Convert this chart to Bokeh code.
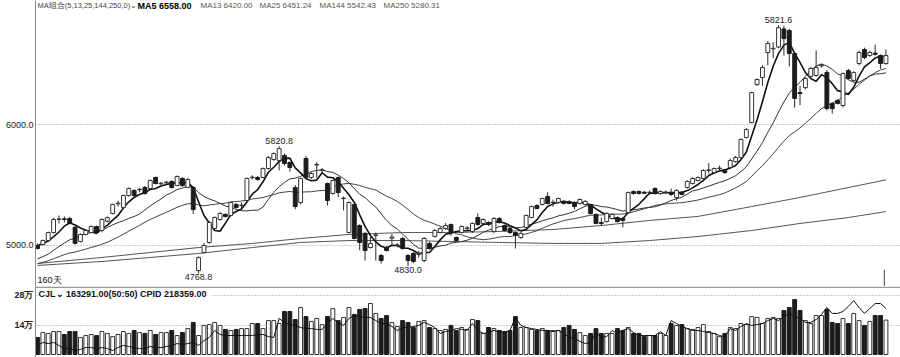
import numpy as np
import pandas as pd
from bokeh.plotting import figure
from bokeh.layouts import column
from bokeh.models import Range1d, FixedTicker, Label, Span, PrintfTickFormatter, ColumnDataSource
from bokeh.embed import file_html
from bokeh.resources import INLINE

# ---------------- data ----------------
warmup_close = [4760, 4780, 4800, 4790, 4810, 4830, 4820, 4800, 4810, 4820, 4830, 4830,
                4810, 4830, 4800, 4820, 4840, 4830, 4850, 4790, 4960, 5000, 5030, 5030]

open_ = [5000,5008,5041,5107,5215,5220,5223,5150,5033,5091,
 5107,5157,5124,5200,5265,5345,5314,5413,5455,5460,
 5480,5471,5562,5510,5518,5529,5496,5554,5480,5480,
 4793,4942,5025,5140,5215,5257,5248,5339,5330,5372,
 5560,5562,5562,5636,5711,5702,5744,5686,5479,5355,
 5719,5562,5665,5620,5512,5430,5562,5388,5107,5339,
 5165,5100,4983,5083,4917,4983,5060,5000,5058,4917,
 4934,4925,4876,5017,5075,5107,5140,5174,5066,5107,
 5140,5116,5231,5182,5190,5116,5223,5165,5140,5107,
 5066,5149,5231,5331,5339,5405,5355,5355,5364,5364,
 5355,5347,5339,5339,5257,5190,5198,5223,5231,5223,
 5273,5446,5446,5440,5438,5471,5430,5438,5440,5397,
 5440,5480,5512,5537,5554,5620,5603,5636,5620,5645,
 5694,5727,5892,6016,6330,6388,6595,6625,6640,6790,
 6777,6587,6264,6305,6397,6405,6485,6430,6174,6198,
 6157,6446,6364,6504,6620,6570,6590,6570,6504]

high = [5017,5050,5115,5230,5248,5240,5235,5160,5100,5132,
 5165,5165,5225,5240,5345,5370,5420,5480,5465,5475,
 5490,5545,5570,5525,5535,5540,5580,5565,5560,5490,
 4910,5020,5200,5240,5275,5265,5365,5350,5355,5562,
 5580,5575,5645,5740,5770,5820.8,5760,5695,5500,5560,
 5740,5605,5690,5640,5520,5545,5570,5405,5365,5345,
 5175,5110,5070,5107,4930,4995,5095,5020,5070,4930,
 4945,4955,5070,5030,5135,5155,5185,5180,5075,5165,
 5160,5190,5265,5225,5200,5235,5235,5175,5150,5115,
 5110,5255,5330,5340,5395,5440,5380,5395,5372,5372,
 5365,5390,5375,5345,5265,5230,5275,5265,5240,5235,
 5445,5455,5455,5450,5455,5480,5455,5455,5470,5465,
 5450,5540,5565,5570,5630,5680,5645,5660,5630,5720,
 5740,5885,5970,6272,6380,6490,6690,6680,6821.6,6815,
 6790,6600,6320,6390,6475,6612,6500,6450,6180,6210,
 6430,6460,6440,6610,6635,6610,6660,6580,6620]

low = [4967,5000,5033,5100,5182,5190,5175,5008,5025,5083,
 5100,5100,5110,5190,5257,5320,5300,5405,5400,5440,
 5420,5460,5505,5500,5510,5470,5490,5485,5475,5260,
 4768.8,4935,5015,5130,5205,5230,5240,5305,5310,5365,
 5545,5535,5555,5628,5700,5620,5660,5610,5300,5340,
 5550,5550,5560,5600,5330,5420,5400,5290,5100,5050,
 4960,4876,4975,4876,4851,4950,5000,4985,4965,4830,
 4855,4900,4860,4965,5065,5100,5130,5080,5030,5100,
 5125,5105,5165,5175,5160,5100,5180,5115,5095,4975,
 5055,5140,5225,5300,5330,5340,5320,5345,5340,5340,
 5300,5340,5330,5255,5175,5160,5190,5215,5190,5150,
 5265,5420,5420,5425,5420,5420,5420,5425,5410,5370,
 5415,5470,5505,5530,5545,5595,5595,5620,5590,5635,
 5685,5720,5885,6010,6320,6320,6488,6550,6630,6570,
 6480,6140,6160,6290,6390,6395,6470,6115,6090,6165,
 6140,6370,6355,6490,6540,6560,6570,6460,6495]

close = [4975,5041,5107,5215,5220,5215,5182,5017,5091,5124,
 5157,5107,5215,5231,5339,5350,5413,5471,5413,5465,
 5430,5537,5512,5515,5523,5479,5570,5496,5545,5297,
 4900,5000,5190,5231,5265,5240,5355,5314,5333,5554,
 5565,5545,5636,5727,5760,5801,5678,5645,5322,5554,
 5562,5595,5670,5625,5372,5537,5438,5392,5355,5058,
 5025,4959,5017,5088,4876,4959,5070,5005,4975,4876,
 4868,4935,5058,4975,5124,5140,5165,5107,5041,5157,
 5145,5182,5174,5215,5174,5223,5190,5124,5107,5083,
 5100,5248,5322,5306,5388,5347,5358,5388,5347,5347,
 5322,5380,5364,5265,5182,5182,5265,5257,5198,5207,
 5438,5430,5430,5432,5440,5430,5446,5440,5422,5455,
 5422,5529,5554,5562,5620,5625,5636,5640,5603,5702,
 5727,5876,5959,6264,6372,6471,6669,6630,6800,6710,
 6587,6215,6255,6380,6463,6471,6490,6132,6132,6174,
 6421,6380,6430,6595,6553,6595,6580,6504,6570]

# volume in 万 (10k)
volume = [8.1,10.4,10.0,10.9,10.9,9.5,10.9,10.9,8.1,9.0,
 9.5,9.0,10.9,10.0,8.5,9.5,10.9,10.0,11.4,10.4,
 10.0,11.4,9.5,10.4,10.4,11.4,9.0,10.4,12.3,15.2,
 9.0,13.8,14.2,15.2,13.8,11.9,11.4,11.9,12.3,12.3,
 14.7,14.7,12.3,16.1,16.1,14.7,20.4,20.4,16.6,22.3,
 18.0,15.7,17.1,14.2,18.0,21.8,16.1,17.6,22.3,19.0,
 21.4,21.8,24.2,19.5,17.1,18.5,15.2,13.3,16.1,15.2,
 12.8,15.7,16.1,12.8,12.3,11.4,11.9,13.8,11.4,12.8,
 11.9,16.6,16.1,10.0,12.8,12.3,11.4,10.9,11.4,18.0,
 12.8,12.8,11.9,11.4,12.3,11.4,11.4,11.4,12.8,13.8,
 11.9,10.4,9.0,10.0,12.3,10.0,10.0,10.0,12.3,11.4,
 12.8,10.0,10.0,8.5,9.0,9.0,10.0,9.0,14.7,13.8,
 14.2,12.3,11.9,12.8,14.2,10.9,10.0,8.5,10.0,12.8,
 12.3,14.7,14.2,18.0,17.6,14.7,17.1,17.6,17.1,20.9,
 22.3,26.1,20.9,16.1,14.7,18.5,18.5,21.4,15.2,14.7,
 17.1,14.7,19.5,16.1,13.8,15.7,18.5,18.5,16.3291]

cpid = [4.3,5.7,5.2,5.7,4.3, 2.8,2.8,1.9,2.4,3.3,
 3.3,2.8,3.3,2.8,1.9, 3.3,4.3,3.8,3.3,2.8,
 2.8,3.8,3.3,3.3,3.8, 4.3,5.2,4.7,5.2,5.7,
 4.3,6.6,8.1,11.4,9.5, 9.0,9.0,9.0,9.0,9.0,
 9.0,9.5,9.5,8.5,8.1, 17.1,15.2,14.2,13.8,12.8,
 12.3,12.3,11.9,11.9,14.7, 17.1,15.2,13.8,17.1,18.5,
 18.0,17.6,17.6,16.1,14.7, 14.7,13.3,11.4,12.8,12.8,
 13.3,13.8,15.2,14.2,12.8, 10.0,10.9,11.4,12.3,11.9,
 11.4,14.7,11.4,10.0,10.4, 11.4,10.9,10.4,11.4,17.6,
 13.8,12.8,12.3,11.9,11.4, 11.4,10.9,11.4,10.0,8.1,
 7.6,6.2,5.2,5.7,10.4, 8.1,8.5,11.4,10.0,11.4,
 12.3,10.4,9.0,9.0,9.0, 9.0,10.9,9.0,16.1,14.7,
 13.3,12.3,11.4,11.4,10.9, 10.4,10.0,9.0,8.5,12.3,
 11.4,13.3,14.7,13.8,14.2, 14.7,16.1,17.1,16.1,18.0,
 19.5,18.0,17.1,15.2,15.2, 16.6,19.0,22.3,19.5,19.5,
 20.4,22.8,25.6,22.3,19.5, 21.8,24.2,24.2,21.8359]

ma_day = [0, 12, 21, 30, 40, 49, 58, 68, 77, 86, 96, 105, 114, 123, 133, 142, 151, 158]
ma144 = [4851, 4901, 4942, 4983, 5017, 5058, 5091, 5107, 5107, 5116, 5132, 5165, 5207, 5240, 5322, 5397, 5479, 5542.43]
ma250 = [4835, 4868, 4901, 4934, 4983, 5025, 5041, 5041, 5033, 5025, 5017, 5017, 5041, 5074, 5124, 5182, 5231, 5280.31]

price_ticks = [5000, 6000]
vol_ticks = [14, 28]
vol_tick_labels = ["14万", "28万"]

peak_day = [45, 138]
peak_text = ["5820.8", "5821.6"]
trough_day = [30, 69]
trough_text = ["4768.8", "4830.0"]

header_texts = ["MA组合(5,13,25,144,250,0)⌄", "MA5 6558.00", "MA13 6420.00", "MA25 6451.24",
                "MA144 5542.43", "MA250 5280.31"]
vol_header = "CJL⌄  163291.00(50:50)  CPID 218359.00"
days_text = "160天"

# ---------------- derived ----------------
N = len(close)
idx = np.arange(N)
W = len(warmup_close)
full = pd.Series(warmup_close + close, dtype=float)
ma5 = full.rolling(5).mean().to_numpy()[W:]
ma13 = full.rolling(13).mean().to_numpy()[W:]
ma25 = full.rolling(25).mean().to_numpy()[W:]

o = np.array(open_, float); c = np.array(close, float)
up = c >= o
src = ColumnDataSource(dict(
    i=idx, h=high, l=low, top=np.maximum(o, c), bot=np.minimum(o, c),
    fill=["white" if u else "#1c1c1c" for u in up],
    line=["#333333" if u else "#1c1c1c" for u in up],
    vol=volume, cpid=cpid, ma5=ma5, ma13=ma13, ma25=ma25))

FONT = "Liberation Sans"
X0 = -0.37
X1 = X0 + 865 / 5.37
xr = Range1d(X0, X1)

# ---------------- price panel ----------------
PH = 286
p = figure(width=900, height=PH, x_range=xr, y_range=Range1d(4661, 7025),
           output_backend="svg", toolbar_location=None, x_axis_location=None,
           min_border_left=35, min_border_right=0, min_border_top=0, min_border_bottom=0)
p.outline_line_color = None
p.background_fill_color = "white"
p.border_fill_color = "white"
p.xgrid.visible = False
p.ygrid.ticker = FixedTicker(ticks=price_ticks)
p.ygrid.grid_line_color = "#9a9a9a"
p.ygrid.grid_line_dash = "1 2"
p.yaxis.ticker = FixedTicker(ticks=price_ticks)
p.yaxis.formatter = PrintfTickFormatter(format="%.1f")
p.yaxis.major_tick_out = 0
p.yaxis.major_tick_in = 0
p.yaxis.minor_tick_out = 0
p.yaxis.minor_tick_in = 0
p.yaxis.major_label_standoff = 2
p.yaxis.major_label_text_font = FONT
p.yaxis.major_label_text_font_size = "9px"
p.yaxis.major_label_text_color = "#222222"
p.yaxis.axis_line_color = "#8a8a8a"

p.line(ma_day, ma250, line_color="#555555", line_width=1)
p.line(ma_day, ma144, line_color="#555555", line_width=1)
p.line("i", "ma25", source=src, line_color="#444444", line_width=1)
p.line("i", "ma13", source=src, line_color="#333333", line_width=1)
p.line("i", "ma5", source=src, line_color="#111111", line_width=1.6)

p.segment("i", "h", "i", "l", source=src, line_color="#2a2a2a", line_width=1)
p.vbar(x="i", top="top", bottom="bot", width=0.72, source=src,
       fill_color="fill", line_color="line", line_width=1)

# last-day marker
p.segment([idx[-1] - 0.3], [4661], [idx[-1] - 0.3], [4800], line_color="#444444", line_width=1)

for d, t in zip(peak_day, peak_text):
    p.add_layout(Label(x=d, y=high[d], text=t, text_align="center", text_baseline="bottom",
                       y_offset=2, text_font=FONT, text_font_size="9px", text_color="#222222"))
for d, t in zip(trough_day, trough_text):
    p.add_layout(Label(x=d, y=low[d], text=t, text_align="center", text_baseline="top",
                       y_offset=-1, text_font=FONT, text_font_size="9px", text_color="#222222"))

p.add_layout(Label(x=2, y=7, x_units="screen", y_units="screen", text=days_text,
                   text_baseline="middle", text_font=FONT, text_font_size="9px", text_color="#111111"))

hdr_x = [2, 102, 165, 224, 284, 348]
hdr_size = ["7.5px", "9px", "8px", "8px", "8px", "8px"]
hdr_style = ["normal", "bold", "normal", "normal", "normal", "normal"]
hdr_color = ["#444444", "#000000", "#555555", "#555555", "#555555", "#555555"]
for t, hx, fs, st, col in zip(header_texts, hdr_x, hdr_size, hdr_style, hdr_color):
    p.add_layout(Label(x=hx, y=PH - 5, x_units="screen", y_units="screen", text=t,
                       text_baseline="middle", text_font=FONT, text_font_size=fs,
                       text_font_style=st, text_color=col))

# ---------------- volume panel ----------------
VH = 71
VTOP = 32.27
v = figure(width=900, height=VH, x_range=xr, y_range=Range1d(-1.42, VTOP),
           output_backend="svg", toolbar_location=None, x_axis_location=None,
           min_border_left=35, min_border_right=0, min_border_top=0, min_border_bottom=0)
v.outline_line_color = None
v.background_fill_color = "white"
v.border_fill_color = "white"
v.xgrid.visible = False
v.ygrid.ticker = FixedTicker(ticks=vol_ticks)
v.ygrid.grid_line_color = "#9a9a9a"
v.ygrid.grid_line_dash = "1 2"
v.yaxis.ticker = FixedTicker(ticks=vol_ticks)
v.yaxis.major_label_overrides = {t: s for t, s in zip(vol_ticks, vol_tick_labels)}
v.yaxis.major_tick_out = 0
v.yaxis.major_tick_in = 0
v.yaxis.minor_tick_out = 0
v.yaxis.minor_tick_in = 0
v.yaxis.major_label_standoff = 2
v.yaxis.major_label_text_font = FONT
v.yaxis.major_label_text_font_size = "9px"
v.yaxis.major_label_text_font_style = "bold"
v.yaxis.major_label_text_color = "#222222"
v.yaxis.axis_line_color = "#8a8a8a"

v.add_layout(Span(location=VTOP - 0.35, dimension="width", line_color="#999999", line_width=1.5))
v.vbar(x="i", top="vol", bottom=0, width=0.72, source=src,
       fill_color="fill", line_color="line", line_width=1)
v.line("i", "cpid", source=src, line_color="#111111", line_width=1)
v.add_layout(Label(x=3, y=VH - 7.5, x_units="screen", y_units="screen", text=vol_header,
                   text_baseline="middle", text_font=FONT, text_font_size="9px",
                   text_font_style="bold", text_color="#111111",
                   background_fill_color="white"))

layout = column(p, v, spacing=0)
open("out.html", "w").write(file_html(layout, INLINE))
